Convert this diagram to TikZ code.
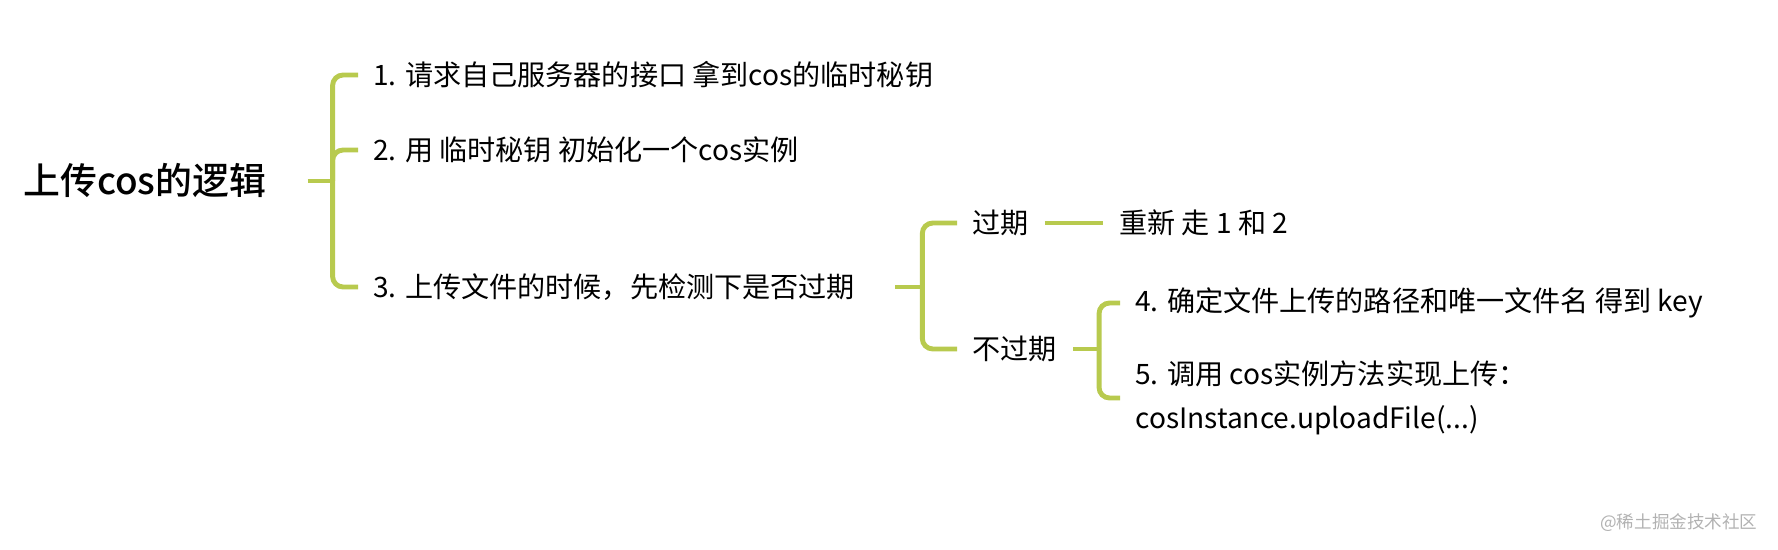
\documentclass[tikz,border=0pt]{standalone}
\usepackage{fontspec}
\setmainfont{Noto Sans CJK SC}
\newfontfamily\topicfont[UprightFont = * Medium]{Noto Sans CJK SC}
\usetikzlibrary{positioning}

\definecolor{twig}{RGB}{184, 202, 78}

\tikzset{
	branch/.style = {line width = 2.8 pt, draw = twig, rounded corners = 6 pt},
	topic/.style = {anchor = west, inner sep = 0 pt, font = \topicfont\fontsize{21}{25}\selectfont},
	leaf/.style = {anchor = west, inner sep = 0 pt, align = left, font = \fontsize{16}{25}\selectfont},
	watermark/.style = {anchor = west, inner sep = 0 pt, text = black!30, font = \fontsize{10}{12}\selectfont}
}

\begin{document}
\begin{tikzpicture}[x = 0.02 cm, y = -0.02 cm]

	\useasboundingbox (0, 0) rectangle (1778, 550);

	% Root

	\node [topic] (root) at (23, 181) {上传cos的逻辑};

	% First level

	\node [leaf] (ask) at (373, 75) {1. 请求自己服务器的接口 拿到cos的临时秘钥};
	\node [leaf] (init) at (373, 150) {2. 用 临时秘钥 初始化一个cos实例};
	\node [leaf] (check) at (373, 287) {3. 上传文件的时候，先检测下是否过期};

	% Second level

	\node [leaf] (expired) at (972, 223) {过期};
	\node [leaf] (valid) at (972, 349) {不过期};
	\node [leaf] (redo) at (1119, 223) {重新 走 1 和 2};

	% Third level

	\node [leaf] (key) at (1135, 303) {4. 确定文件上传的路径和唯一文件名 得到 key};
	\node [leaf] (upload) at (1135, 398) {5. 调用 cos实例方法实现上传：\\cosInstance.uploadFile(...)};

	% Branches

	\draw [branch] (root.east) ++(41, 0) -- ++(25, 0) coordinate (fork1);
	\foreach \child in {ask, init, check}
		\draw [branch] (fork1) |- ([xshift = -0.3 cm] \child.west);

	\draw [branch] (check.east) ++(40, 0) -- ++(27, 0) coordinate (fork2);
	\foreach \child in {expired, valid}
		\draw [branch] (fork2) |- ([xshift = -0.3 cm] \child.west);

	\draw [branch] ([xshift = 0.32 cm] expired.east) -- ([xshift = -0.32 cm] redo.west);

	\draw [branch] (valid.east) ++(16, 0) -- ++(26, 0) coordinate (fork3);
	\foreach \child in {key, upload}
		\draw [branch] (fork3) |- ([xshift = -0.3 cm] \child.west);

	% Watermark

	\node [watermark] (credit) at (1600, 523) {@稀土掘金技术社区};

\end{tikzpicture}
\end{document}
